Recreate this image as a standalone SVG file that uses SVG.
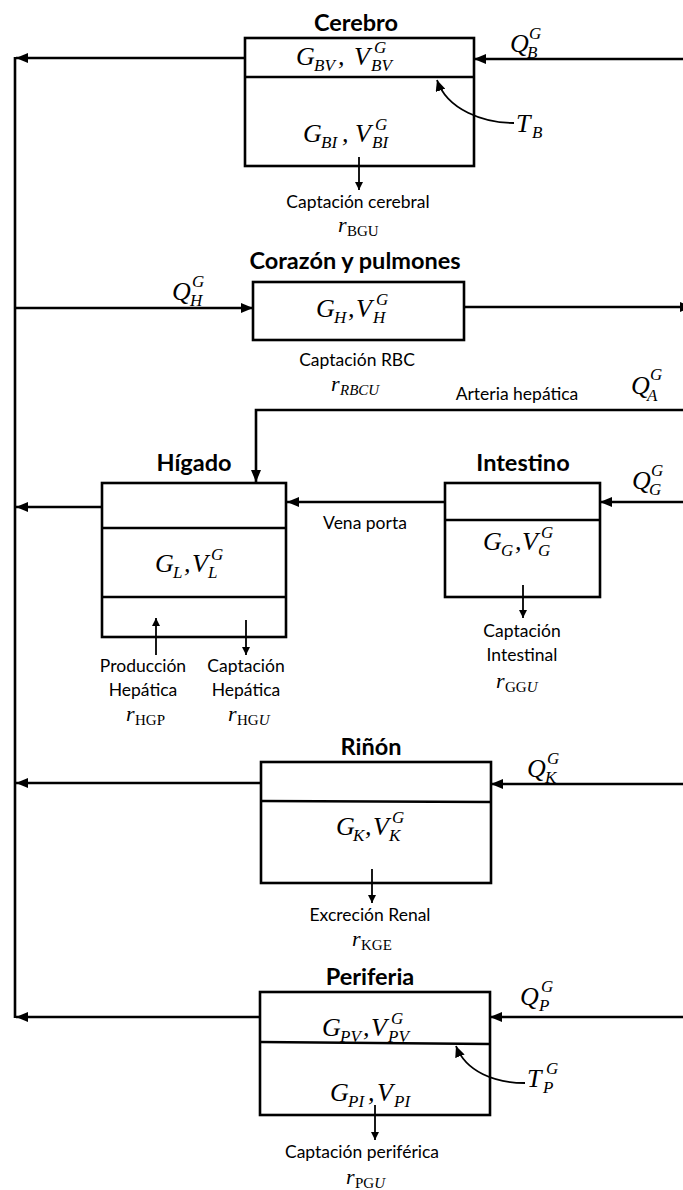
<svg xmlns="http://www.w3.org/2000/svg" width="683" height="1190" viewBox="0 0 683 1190">
<defs>
<style>
.box{fill:#fff;stroke:#000;stroke-width:2.6}
.ln{fill:none;stroke:#000;stroke-width:2.6}
.th{fill:none;stroke:#000;stroke-width:1.8}
.title{font-family:Lato,"Liberation Sans",sans-serif;font-weight:bold;font-size:23.5px;text-anchor:middle;fill:#000}
.lbl{font-family:Lato,"Liberation Sans",sans-serif;font-size:17.5px;text-anchor:middle;fill:#000}
.m{font-family:"Liberation Serif","DejaVu Serif",serif;font-style:italic;font-size:26px;fill:#000}
.s{font-size:17px}
.r{font-family:"Liberation Serif","DejaVu Serif",serif;font-style:italic;font-size:22px;fill:#000}
.rs{font-size:15px}
.up{font-style:normal}
</style>
<marker id="ah" viewBox="0 0 12 10" refX="12" refY="5" markerWidth="12" markerHeight="10" markerUnits="userSpaceOnUse" orient="auto"><path d="M0,0 L12,5 L0,10 z" fill="#000"/></marker>
<marker id="as" viewBox="0 0 8 8" refX="8" refY="4" markerWidth="8" markerHeight="8" markerUnits="userSpaceOnUse" orient="auto"><path d="M0,0 L8,4 L0,8 z" fill="#000"/></marker>
<marker id="am" viewBox="0 0 11 10" refX="11" refY="5" markerWidth="11" markerHeight="10" markerUnits="userSpaceOnUse" orient="auto"><path d="M0,0 L11,5 L0,10 z" fill="#000"/></marker>
</defs>
<rect width="683" height="1190" fill="#fff"/>

<g id="cerebro">
<text class="title" x="356" y="31">Cerebro</text>
<rect class="box" x="245" y="38" width="229" height="128"/>
<path class="ln" d="M245,77 H474"/>
<text class="m"><tspan x="296" y="65">G</tspan><tspan class="s" x="314" y="71">BV</tspan><tspan x="338" y="65">,</tspan><tspan x="354" y="65">V</tspan><tspan class="s" x="374" y="53">G</tspan><tspan class="s" x="371" y="71">BV</tspan></text>
<text class="m"><tspan x="303" y="142">G</tspan><tspan class="s" x="321" y="148">BI</tspan><tspan x="342" y="142">,</tspan><tspan x="355" y="142">V</tspan><tspan class="s" x="375" y="130">G</tspan><tspan class="s" x="372" y="148">BI</tspan></text>
<text class="lbl" x="358" y="208">Captación cerebral</text>
<text class="r"><tspan x="338" y="232">r</tspan><tspan class="rs up" x="347" y="236">BGU</tspan></text>
</g>

<g id="corazon">
<text class="title" x="355" y="269">Corazón y pulmones</text>
<rect class="box" x="253" y="282" width="211" height="58"/>
<text class="m"><tspan x="316" y="317">G</tspan><tspan class="s" x="334" y="323">H</tspan><tspan x="348" y="317">,</tspan><tspan x="356" y="317">V</tspan><tspan class="s" x="376" y="305">G</tspan><tspan class="s" x="373" y="323">H</tspan></text>
<text class="lbl" x="357" y="366">Captación RBC</text>
<text class="r"><tspan x="331" y="391">r</tspan><tspan class="rs" x="340" y="395">RBCU</tspan></text>
</g>

<g id="higado">
<text class="title" x="194" y="471">Hígado</text>
<rect class="box" x="102" y="483" width="184" height="154"/>
<path class="ln" d="M102,528 H286 M102,597 H286"/>
<text class="m"><tspan x="155" y="572">G</tspan><tspan class="s" x="173" y="578">L</tspan><tspan x="184" y="572">,</tspan><tspan x="192" y="572">V</tspan><tspan class="s" x="211" y="560">G</tspan><tspan class="s" x="208" y="578">L</tspan></text>
<text class="lbl" x="143" y="672">Producción</text>
<text class="lbl" x="143" y="696">Hepática</text>
<text class="lbl" x="246" y="672">Captación</text>
<text class="lbl" x="246" y="696">Hepática</text>
<text class="r"><tspan x="126" y="721">r</tspan><tspan class="rs up" x="135" y="725">HGP</tspan></text>
<text class="r"><tspan x="228" y="721">r</tspan><tspan class="rs up" x="237" y="725">HG</tspan><tspan class="rs">U</tspan></text>
</g>

<g id="intestino">
<text class="title" x="523" y="471">Intestino</text>
<rect class="box" x="445" y="483" width="155" height="114"/>
<path class="ln" d="M445,520 H600"/>
<text class="m"><tspan x="483" y="550">G</tspan><tspan class="s" x="501" y="556">G</tspan><tspan x="515" y="550">,</tspan><tspan x="522" y="550">V</tspan><tspan class="s" x="541" y="538">G</tspan><tspan class="s" x="538" y="556">G</tspan></text>
<text class="lbl" x="522" y="637">Captación</text>
<text class="lbl" x="522" y="661">Intestinal</text>
<text class="r"><tspan x="496" y="688">r</tspan><tspan class="rs up" x="505" y="692">GG</tspan><tspan class="rs">U</tspan></text>
</g>

<g id="rinon">
<text class="title" x="371" y="755">Riñón</text>
<rect class="box" x="261" y="762" width="230" height="121"/>
<path class="ln" d="M261,801 L491,802"/>
<text class="m"><tspan x="336" y="835">G</tspan><tspan class="s" x="353" y="841">K</tspan><tspan x="365" y="835">,</tspan><tspan x="373" y="835">V</tspan><tspan class="s" x="392" y="823">G</tspan><tspan class="s" x="389" y="841">K</tspan></text>
<text class="lbl" x="370" y="921">Excreción Renal</text>
<text class="r"><tspan x="352" y="946">r</tspan><tspan class="rs up" x="361" y="950">KGE</tspan></text>
</g>

<g id="periferia">
<text class="title" x="370" y="985">Periferia</text>
<rect class="box" x="260" y="992" width="230" height="123"/>
<path class="ln" d="M260,1042 L490,1044"/>
<text class="m"><tspan x="322" y="1036">G</tspan><tspan class="s" x="340" y="1042">PV</tspan><tspan x="363" y="1036">,</tspan><tspan x="371" y="1036">V</tspan><tspan class="s" x="391" y="1024">G</tspan><tspan class="s" x="388" y="1042">PV</tspan></text>
<text class="m"><tspan x="330" y="1101">G</tspan><tspan class="s" x="348" y="1107">PI</tspan><tspan x="368" y="1101">,</tspan><tspan x="377" y="1101">V</tspan><tspan class="s" x="394" y="1107">PI</tspan></text>
<text class="lbl" x="362" y="1158">Captación periférica</text>
<text class="r"><tspan x="346" y="1184">r</tspan><tspan class="rs up" x="355" y="1188">PG</tspan><tspan class="rs">U</tspan></text>
</g>

<g id="connectors">
<path class="ln" d="M15,57 V1018"/>
<path class="ln" d="M245,58 H16" marker-end="url(#ah)"/>
<path class="ln" d="M683,59 H474" marker-end="url(#ah)"/>
<path class="ln" d="M15,308 H253" marker-end="url(#ah)"/>
<path class="ln" d="M464,307 H692" marker-end="url(#ah)"/>
<path class="ln" d="M683,410 H256 V482" marker-end="url(#ah)"/>
<path class="ln" d="M102,507 H16" marker-end="url(#ah)"/>
<path class="ln" d="M445,502 H287" marker-end="url(#ah)"/>
<path class="ln" d="M683,502 H600" marker-end="url(#ah)"/>
<path class="ln" d="M261,783 H16" marker-end="url(#ah)"/>
<path class="ln" d="M683,784 H491" marker-end="url(#ah)"/>
<path class="ln" d="M260,1017 H16" marker-end="url(#ah)"/>
<path class="ln" d="M683,1017 H490" marker-end="url(#ah)"/>
<path class="th" d="M514,123 C484,123 447,110 437,80" marker-end="url(#am)"/>
<path class="th" d="M525,1083 C495,1083 466,1072 456,1046" marker-end="url(#am)"/>
<path class="th" d="M359,157 V190" marker-end="url(#as)"/>
<path class="th" d="M156,655 V618" marker-end="url(#as)"/>
<path class="th" d="M246,620 V655" marker-end="url(#as)"/>
<path class="th" d="M523,585 V618" marker-end="url(#as)"/>
<path class="th" d="M372,869 V903" marker-end="url(#as)"/>
<path class="th" d="M375,1105 V1140" marker-end="url(#as)"/>
<text class="m"><tspan x="510" y="52">Q</tspan><tspan class="s" x="529" y="39">G</tspan><tspan class="s" x="527" y="58">B</tspan></text>
<text class="m"><tspan x="172" y="300">Q</tspan><tspan class="s" x="192" y="287">G</tspan><tspan class="s" x="190" y="306">H</tspan></text>
<text class="m"><tspan x="631" y="394">Q</tspan><tspan class="s" x="650" y="380">G</tspan><tspan class="s" x="647" y="401">A</tspan></text>
<text class="m"><tspan x="632" y="489">Q</tspan><tspan class="s" x="651" y="476">G</tspan><tspan class="s" x="649" y="495">G</tspan></text>
<text class="m"><tspan x="527" y="777">Q</tspan><tspan class="s" x="547" y="764">G</tspan><tspan class="s" x="545" y="783">K</tspan></text>
<text class="m"><tspan x="520" y="1005">Q</tspan><tspan class="s" x="541" y="992">G</tspan><tspan class="s" x="539" y="1011">P</tspan></text>
<text class="m"><tspan x="516" y="132">T</tspan><tspan class="s" x="532" y="138">B</tspan></text>
<text class="m"><tspan x="527" y="1087">T</tspan><tspan class="s" x="546" y="1074">G</tspan><tspan class="s" x="543" y="1093">P</tspan></text>
<text class="lbl" x="517" y="400">Arteria hepática</text>
<text class="lbl" x="365" y="529">Vena porta</text>
</g>
</svg>
